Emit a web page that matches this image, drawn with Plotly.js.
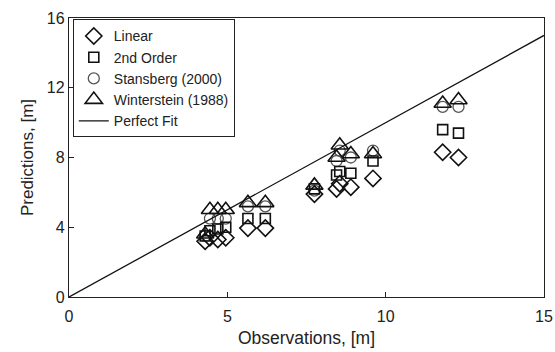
<!DOCTYPE html>
<html>
<head>
<meta charset="utf-8">
<script src="https://cdn.plot.ly/plotly-3.0.1.min.js"></script>
<style>html,body{margin:0;padding:0;background:#fff;}#chart{width:555px;height:352px;}</style>
</head>
<body>
<div id="chart"></div>
<script>
const observations = [4.3, 4.45, 4.7, 4.95, 5.65, 6.2, 7.75, 8.45, 8.55, 8.9, 9.6, 11.8, 12.3];
const linear       = [3.2, 3.4, 3.3, 3.4, 3.95, 3.95, 5.9, 6.2, 6.5, 6.3, 6.8, 8.3, 8.0];
const secondOrder  = [3.5, 3.8, 3.9, 4.0, 4.5, 4.5, 6.2, 7.0, 7.2, 7.1, 7.8, 9.6, 9.4];
const stansberg    = [3.5, 4.5, 4.5, 4.5, 5.2, 5.2, 6.1, 7.8, 8.4, 8.0, 8.4, 10.9, 10.9];
const winterstein  = [3.6, 5.0, 5.0, 5.0, 5.4, 5.4, 6.4, 8.0, 8.7, 8.2, 8.2, 11.1, 11.3];
const fitX = [0, 15];
const fitY = [0, 15];
const xTicks = [0, 5, 10, 15];
const yTicks = [0, 4, 8, 12, 16];

const mk = (sym, size, col, w) => ({symbol: sym, size: size, color: col, line: {color: col, width: w}});
const traces = [
  {x: observations, y: stansberg, mode: 'markers', name: 'Stansberg (2000)', legendrank: 3, marker: mk('circle-open', 11, '#555', 1.3)},
  {x: observations, y: linear, mode: 'markers', name: 'Linear', legendrank: 1, marker: mk('diamond-open', 12.5, '#111', 1.6)},
  {x: observations, y: secondOrder, mode: 'markers', name: '2nd Order', legendrank: 2, marker: mk('square-open', 10, '#111', 1.6)},
  {x: observations, y: winterstein, mode: 'markers', name: 'Winterstein (1988)', legendrank: 4, marker: mk('triangle-up-open', 15, '#111', 1.6)},
  {x: fitX, y: fitY, mode: 'lines', name: 'Perfect Fit', legendrank: 5, line: {color: '#111', width: 1.3}}
];
const axisCommon = {
  showgrid: false, zeroline: false, showline: true, mirror: true,
  linecolor: '#222', linewidth: 1.2, ticks: 'inside', ticklen: 5, tickcolor: '#222',
  tickfont: {family: 'Liberation Sans, Arial, sans-serif', size: 16, color: '#222'}
};
const layout = {
  width: 555, height: 352,
  margin: {l: 69, r: 11, t: 18, b: 55},
  paper_bgcolor: '#fff', plot_bgcolor: '#fff',
  font: {family: 'Liberation Sans, Arial, sans-serif', color: '#222'},
  xaxis: Object.assign({}, axisCommon, {range: [0, 15], tickvals: xTicks, ticklabelstandoff: 5,
    title: {text: 'Observations, [m]', font: {size: 17.5, color: '#222'}, standoff: 7}}),
  yaxis: Object.assign({}, axisCommon, {range: [0, 16], tickvals: yTicks,
    title: {text: 'Predictions, [m]', font: {size: 17, color: '#222'}, standoff: 8}}),
  showlegend: true,
  legend: {x: 0.008, y: 0.995, xanchor: 'left', yanchor: 'top', bgcolor: '#fff',
    bordercolor: '#222', borderwidth: 1, font: {size: 14, color: '#222'},
    tracegroupgap: 0, itemwidth: 30, traceorder: 'normal'}
};
Plotly.newPlot('chart', traces, layout, {displayModeBar: false, staticPlot: true});
</script>
</body>
</html>
